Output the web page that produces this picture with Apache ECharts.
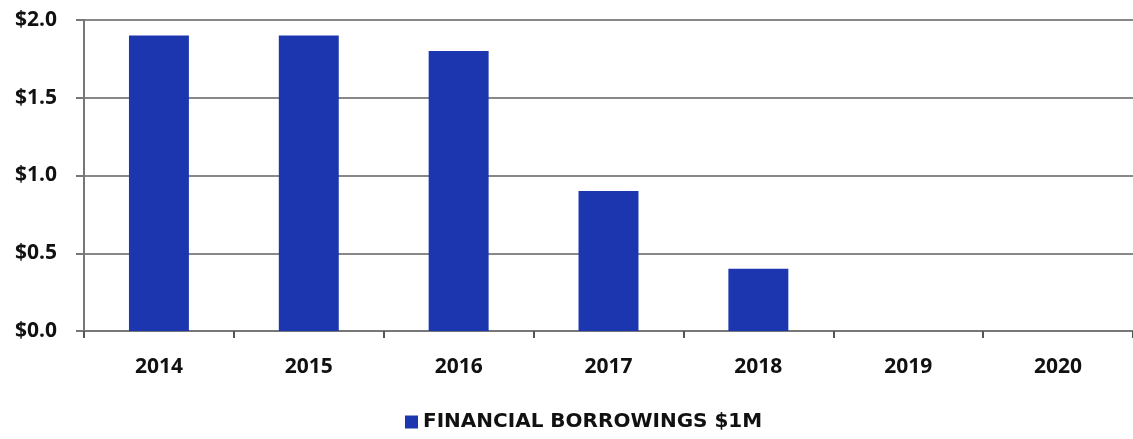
<!DOCTYPE html>
<html>
<head>
<meta charset="utf-8">
<script src="https://cdn.jsdelivr.net/npm/echarts@6/dist/echarts.min.js"></script>
<style>
  html, body { margin: 0; padding: 0; background: #fff; }
  #chart { width: 1133px; height: 439px; }
</style>
</head>
<body>
<div id="chart"></div>
<script>
// Financial borrowings by year, in $ millions
const years = ['2014', '2015', '2016', '2017', '2018', '2019', '2020'];
const borrowings = [1.9, 1.9, 1.8, 0.9, 0.4, 0, 0];
const seriesName = 'FINANCIAL BORROWINGS $1M';

const font = '"Open Sans", "DejaVu Sans", sans-serif';
const chart = echarts.init(document.getElementById('chart'), null, { renderer: 'canvas' });

chart.setOption({
  animation: false,
  backgroundColor: '#ffffff',
  grid: { left: 84, top: 20, width: 1054, height: 311, containLabel: false },
  legend: {
    bottom: 2,
    left: 400,
    itemWidth: 13,
    itemHeight: 13,
    itemGap: 10,
    icon: 'rect',
    textStyle: { fontFamily: '"DejaVu Sans", sans-serif', fontWeight: 'bold', fontSize: 20, color: '#111' },
    data: [seriesName]
  },
  xAxis: {
    type: 'category',
    data: years,
    axisLine: { lineStyle: { color: '#777', width: 2 } },
    axisTick: { show: true, length: 7, lineStyle: { color: '#555', width: 2 } },
    axisLabel: { margin: 26, fontFamily: font, fontWeight: 'bold', fontSize: 21, color: '#111' }
  },
  yAxis: {
    type: 'value',
    min: 0,
    max: 2,
    interval: 0.5,
    axisLine: { show: true, lineStyle: { color: '#777', width: 2 } },
    axisTick: { show: true, length: 8, lineStyle: { color: '#777', width: 2 } },
    splitLine: { lineStyle: { color: '#888', width: 2 } },
    axisLabel: {
      margin: 27,
      fontFamily: font, fontWeight: 'bold', fontSize: 21, color: '#111',
      formatter: v => '$' + v.toFixed(1)
    }
  },
  series: [{
    name: seriesName,
    type: 'bar',
    data: borrowings,
    barWidth: '40%',
    itemStyle: { color: '#1B36AE' }
  }]
});
</script>
</body>
</html>
